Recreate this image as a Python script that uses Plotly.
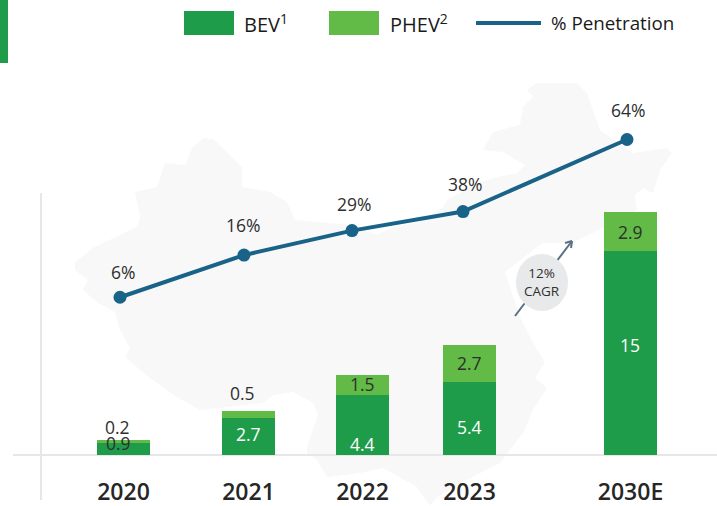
import plotly.graph_objects as go

# ---- data ----
years = ["2020", "2021", "2022", "2023", "2030E"]
bev = [0.9, 2.7, 4.4, 5.4, 15]
phev = [0.2, 0.5, 1.5, 2.7, 2.9]
penetration_labels = ["6%", "16%", "29%", "38%", "64%"]
# the line is drawn on its own unscaled track: heights read in bar-axis units
penetration_height = [11.6, 14.7, 16.5, 17.9, 23.2]

# ---- layout ----
W, H = 717, 506
BASE = 455
PX_PER_UNIT = 13.6
bar_x = [123.5, 248.5, 362.5, 469.5, 630.5]
line_x = [120, 244, 352, 463, 627]
BEV_C, PHEV_C, LINE_C = "#1f9c4a", "#62bb46", "#1a6388"
INK = "#2f2f2f"
FONT = "Open Sans"

def yv(p):
    return (BASE - p) / PX_PER_UNIT

def px(x):
    return x / W

def py(y):
    return 1 - y / BASE  # paper fraction is relative to the plot area

china = [(75,262),(93,248),(105,242),(137,227),(140,217),(135,192),(157,187),(165,163),(185,165),
 (192,148),(203,138),(213,139),(227,152),(242,167),(242,187),(270,192),(287,202),(295,220),(350,225),
 (377,235),(393,227),(420,222),(443,207),(447,200),(477,183),(497,177),(517,173),(525,165),(503,152),
 (483,150),(493,132),(520,125),(523,107),(533,97),(527,90),(537,83),(577,83),(587,93),(600,130),
 (633,153),(667,148),(672,153),(660,170),(653,193),(643,188),(635,195),(637,210),(593,233),(572,243),
 (543,243),(537,247),(505,272),(520,317),(533,343),(545,362),(535,378),(547,388),(533,410),(523,433),
 (500,463),(467,480),(437,497),(430,506),(417,487),(383,468),(360,473),(327,477),(317,460),(307,453),
 (307,447),(318,415),(313,403),(293,392),(273,395),(263,403),(200,410),(177,397),(150,378),(125,357),
 (130,348),(120,330),(115,312),(98,303),(83,290),(88,280),(75,270)]
china_path = "M " + " L ".join(f"{px(x):.4f} {py(y):.4f}" for x, y in china) + " Z"

def hline(x0, y0, x1, y1, color, width, layer="below"):
    return dict(type="line", xref="paper", yref="paper", x0=px(x0), x1=px(x1), y0=py(y0), y1=py(y1),
                line=dict(color=color, width=width), layer=layer)

def rect(x0, y0, x1, y1, color):
    return dict(type="rect", xref="paper", yref="paper", x0=px(x0), x1=px(x1), y0=py(y0), y1=py(y1),
                fillcolor=color, line=dict(width=0), layer="above")

ARROW = "#5b7083"
shapes = [
    dict(type="path", xref="paper", yref="paper", path=china_path, fillcolor="#f8f8f9",
         line=dict(width=0), layer="below"),
    hline(13, BASE, W, BASE, "#e6e7e8", 2),
    hline(41, 193, 41, 500, "#e6e7e8", 2),
    rect(0, 0, 8, 63, BEV_C),
    rect(184, 11, 234, 35, BEV_C),
    rect(329, 11, 379, 35, PHEV_C),
    hline(476, 23, 541, 23, LINE_C, 4, "above"),
    hline(515, 316, 572, 241, ARROW, 2, "above"),
    hline(572, 241, 565, 243, ARROW, 2, "above"),
    hline(572, 241, 571, 248, ARROW, 2, "above"),
    dict(type="circle", xref="paper", yref="paper", x0=px(516), x1=px(568), y0=py(254), y1=py(311),
         fillcolor="#e8e9ea", line=dict(width=0), layer="above"),
]

def note(text, x, y, size=17.5, color=INK, family=FONT, xanchor="center"):
    return dict(text=text, x=x, y=yv(y), xref="x", yref="y", showarrow=False, xanchor=xanchor,
                yanchor="middle", font=dict(size=size, color=color, family=family))

annotations = []
# bar labels
bev_label_y = [443, 434, 444, 427, 345]
bev_label_c = [INK, "white", "white", "white", "white"]
phev_label_y = [427, 393, 384, 363, 232]
bar_label_x = [[118, 248, 362, 469, 630], [117, 242, 362, 469, 630]]
for i in range(len(years)):
    annotations.append(note(str(bev[i]), bar_label_x[0][i], bev_label_y[i], color=bev_label_c[i]))
    annotations.append(note(str(phev[i]), bar_label_x[1][i], phev_label_y[i]))
# line labels
label_pos = [(123, 272), (243, 225), (354, 204), (465, 184), (628, 110)]
for t, (lx, ly) in zip(penetration_labels, label_pos):
    annotations.append(note(t, lx, ly))
# legend text
annotations += [
    note("BEV<sup>1</sup>", 242, 23, size=20, color="#1a1a1a", xanchor="left"),
    note("PHEV<sup>2</sup>", 388, 23, size=20, color="#1a1a1a", xanchor="left"),
    note("% Penetration", 549, 23, size=18.8, color="#1a1a1a", xanchor="left"),
    note("12%<br>CAGR", 542, 282, size=13.5),
]

fig = go.Figure()
fig.add_bar(x=bar_x, y=bev, width=53, marker=dict(color=BEV_C, line=dict(width=0)), name="BEV")
fig.add_bar(x=bar_x, y=phev, width=53, marker=dict(color=PHEV_C, line=dict(width=0)), name="PHEV")
fig.add_scatter(x=line_x, y=penetration_height, mode="lines+markers", name="% Penetration",
                line=dict(color=LINE_C, width=4), marker=dict(color=LINE_C, size=13))

fig.update_layout(
    width=W, height=H, autosize=False, barmode="stack", showlegend=False,
    margin=dict(l=0, r=0, t=0, b=H - BASE), paper_bgcolor="white", plot_bgcolor="rgba(0,0,0,0)",
    shapes=shapes, annotations=annotations,
    xaxis=dict(range=[0, W], tickmode="array", tickvals=bar_x, ticktext=years, showgrid=False, zeroline=False,
               showline=False, ticks="outside", ticklen=16, tickcolor="rgba(0,0,0,0)", automargin=False,
               tickfont=dict(family=FONT, size=23, color="#262626", weight=600)),
    yaxis=dict(range=[0, BASE / PX_PER_UNIT], visible=False, showgrid=False, zeroline=False, automargin=False),
)
fig.write_html("out.html", config=dict(displayModeBar=False),
               post_script="document.body.style.margin='0';document.documentElement.style.overflow='hidden';")
